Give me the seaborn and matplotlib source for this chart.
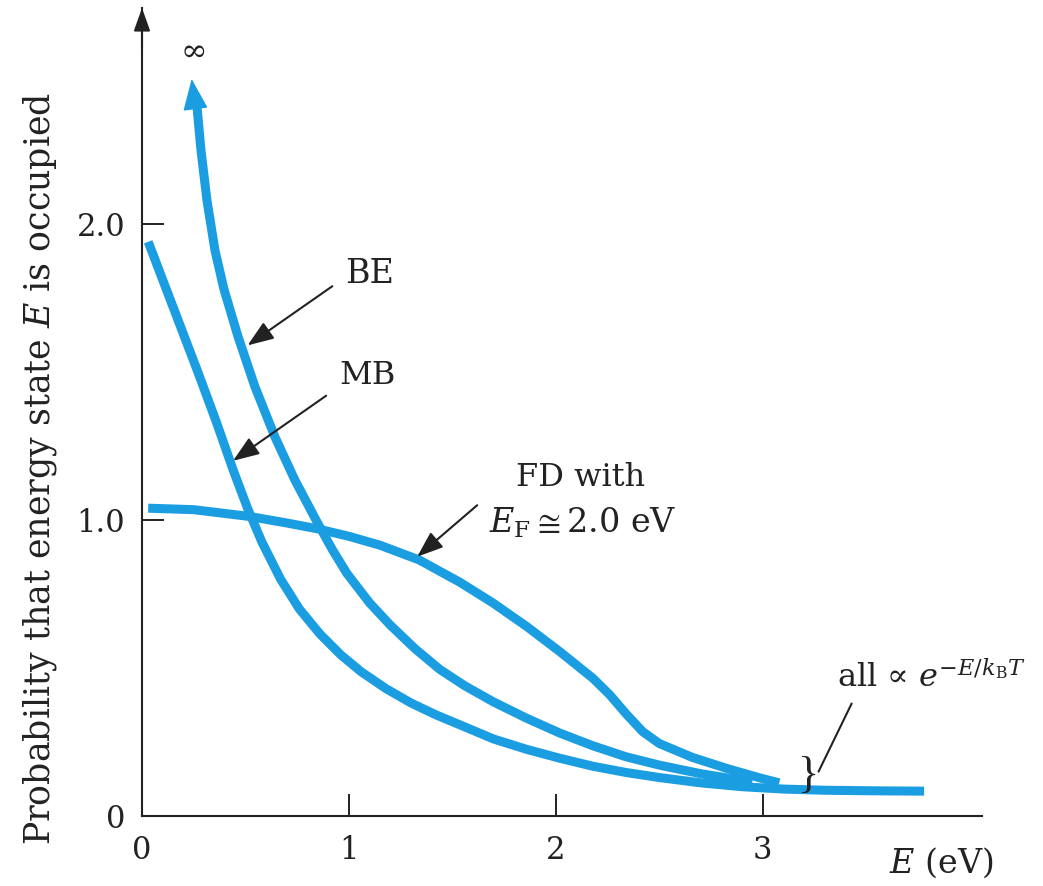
import matplotlib
matplotlib.use("Agg")
import matplotlib.pyplot as plt
import pandas as pd
import seaborn as sns

# values
be_energy = [0.266, 0.285, 0.314, 0.353, 0.396, 0.464, 0.546, 0.643, 0.739, 0.841, 0.92, 0.99,
             1.10, 1.20, 1.32, 1.44, 1.56, 1.70, 1.86, 2.02, 2.18, 2.34, 2.50, 2.70, 2.95]
be_prob = [2.395, 2.25, 2.08, 1.91, 1.78, 1.62, 1.45, 1.28, 1.135, 1.00, 0.90, 0.82,
           0.72, 0.645, 0.565, 0.495, 0.44, 0.385, 0.33, 0.28, 0.237, 0.20, 0.172, 0.143, 0.115]

mb_energy = [0.03, 0.15, 0.27, 0.36, 0.44, 0.51, 0.58, 0.67, 0.76, 0.86, 0.96, 1.06, 1.18, 1.30,
             1.42, 1.54, 1.70, 1.86, 2.02, 2.18, 2.34, 2.50, 2.70, 2.90, 3.10, 3.30, 3.55, 3.78]
mb_prob = [1.94, 1.72, 1.50, 1.33, 1.17, 1.04, 0.925, 0.80, 0.70, 0.615, 0.545, 0.487, 0.43, 0.382,
           0.342, 0.307, 0.26, 0.225, 0.195, 0.168, 0.147, 0.130, 0.112, 0.099, 0.091, 0.087, 0.085, 0.084]

fd_energy = [0.03, 0.25, 0.52, 0.70, 0.85, 1.00, 1.15, 1.34, 1.536, 1.696, 1.86, 2.02, 2.18,
             2.26, 2.34, 2.42, 2.50, 2.66, 2.83, 2.99, 3.08]
fd_prob = [1.04, 1.035, 1.012, 0.99, 0.97, 0.945, 0.915, 0.865, 0.79, 0.72, 0.64, 0.555, 0.465,
           0.41, 0.345, 0.285, 0.245, 0.198, 0.16, 0.128, 0.112]

x_ticks = [0, 1, 2, 3]
x_tick_labels = ["0", "1", "2", "3"]
y_ticks = [0, 1, 2]
y_tick_labels = ["0", "1.0", "2.0"]

BLUE = "#1b9de2"
INK = "#222222"

sns.set_style("ticks")
plt.rcParams["font.family"] = ["DejaVu Serif"]
plt.rcParams["mathtext.fontset"] = "dejavuserif"

df = pd.concat([
    pd.DataFrame({"curve": "BE", "energy": be_energy, "prob": be_prob}),
    pd.DataFrame({"curve": "MB", "energy": mb_energy, "prob": mb_prob}),
    pd.DataFrame({"curve": "FD", "energy": fd_energy, "prob": fd_prob}),
])

fig = plt.figure(figsize=(10.43, 8.86), dpi=100)
ax = fig.add_axes([142 / 1043, 70 / 886, 840 / 1043, 808 / 886])

sns.lineplot(
    data=df, x="energy", y="prob", units="curve", estimator=None, sort=False,
    color=BLUE, linewidth=6.5, ax=ax, legend=False,
    solid_capstyle="butt", solid_joinstyle="round",
)

ax.set_xlim(0, 4.06)
ax.set_ylim(0, 2.73)
sns.despine(ax=ax)
for s in ["left", "bottom"]:
    ax.spines[s].set_color(INK)
    ax.spines[s].set_linewidth(1.5)

ax.set_xticks(x_ticks)
ax.set_xticklabels(x_tick_labels)
ax.set_yticks(y_ticks)
ax.set_yticklabels(y_tick_labels)
ax.tick_params(direction="in", length=16, width=1.4, color=INK, labelsize=22, labelcolor=INK)
ax.tick_params(axis="x", pad=14)
ax.tick_params(axis="y", pad=12)

ax.set_xlabel("$E$ (eV)", fontsize=24, color=INK, va="center")
ax.xaxis.set_label_coords(0.952, -0.058)
ax.set_ylabel("Probability that energy state $E$ is occupied", fontsize=25, color=INK, va="center")
ax.yaxis.set_label_coords(-0.121, 0.43)

# arrow on top of the y axis
ax.annotate("", xy=(0, 1.0), xycoords="axes fraction", xytext=(0, 0.95),
            arrowprops=dict(arrowstyle="-|>,head_length=0.7,head_width=0.25",
                            mutation_scale=20, color=INK, lw=1.5, shrinkA=0, shrinkB=0),
            annotation_clip=False)

# BE goes to infinity
ax.annotate("", xy=(0.24, 2.49), xytext=(0.275, 2.30),
            arrowprops=dict(arrowstyle="-|>,head_length=1.0,head_width=0.4",
                            mutation_scale=20, color=BLUE, lw=1, shrinkA=0, shrinkB=0))
ax.text(0.25, 2.58, "∞", fontsize=23, ha="center", va="center", color=INK)

arrow_kw = dict(arrowstyle="-|>,head_length=0.8,head_width=0.3", mutation_scale=20,
                color=INK, lw=1.5, shrinkA=0, shrinkB=0)
ax.text(1.10, 1.83, "BE", fontsize=24, ha="center", va="center", color=INK)
ax.annotate("", xy=(0.51, 1.59), xytext=(0.92, 1.79), arrowprops=arrow_kw)
ax.text(1.09, 1.49, "MB", fontsize=23, ha="center", va="center", color=INK)
ax.annotate("", xy=(0.44, 1.20), xytext=(0.89, 1.42), arrowprops=arrow_kw)
ax.text(2.12, 1.145, "FD with", fontsize=23, ha="center", va="center", color=INK)
ax.text(2.13, 0.99, r"$E_{\rm F} \cong 2.0$ eV", fontsize=24, ha="center", va="center", color=INK)
ax.annotate("", xy=(1.33, 0.876), xytext=(1.62, 1.05), arrowprops=arrow_kw)

ax.text(3.36, 0.466, r"all ∝ $e^{-E/k_{\rm B}T}$", fontsize=23, ha="left", va="center", color=INK)
ax.annotate("", xy=(3.27, 0.15), xytext=(3.43, 0.38),
            arrowprops=dict(arrowstyle="-", color=INK, lw=1.5, shrinkA=0, shrinkB=0))
ax.text(3.22, 0.135, "}", fontsize=32, family="Liberation Serif", ha="center", va="center", color=INK)

fig.savefig("out.png", dpi=100)
